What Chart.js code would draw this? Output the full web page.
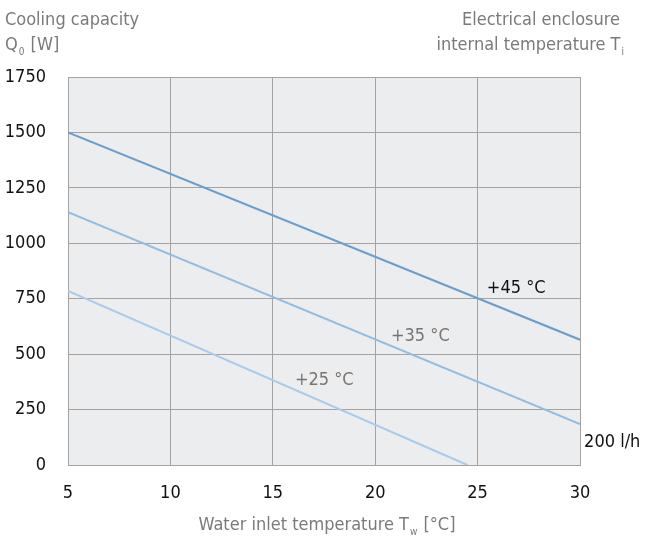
<!DOCTYPE html>
<html>
<head>
<meta charset="utf-8">
<script src="https://cdn.jsdelivr.net/npm/chart.js@4.4.1/dist/chart.umd.min.js"></script>
<style>
html,body{margin:0;padding:0;background:#fff;}
#wrap{width:662px;height:543px;position:relative;}
</style>
</head>
<body>
<div id="wrap"><canvas id="c"></canvas></div>
<script>
// Data
const xTicks = [5, 10, 15, 20, 25, 30];
const yTicks = [0, 250, 500, 750, 1000, 1250, 1500, 1750];
const seriesNames = ['+45 °C', '+35 °C', '+25 °C'];
const t45x = [5, 30];
const t45y = [1500, 565];
const t35x = [5, 30];
const t35y = [1140, 185];
const t25x = [5, 24.5];
const t25y = [785, 0];
const flowLabel = '200 l/h';

const FONT = '"Liberation Sans Narrow", "DejaVu Sans Condensed", Roboto, sans-serif';
const toPts = (xs, ys) => xs.map((x, i) => ({x: x, y: ys[i]}));

const textPlugin = {
  id: 'texts',
  beforeDraw(chart) {
    const {ctx, chartArea: a} = chart;
    ctx.save();
    ctx.fillStyle = '#ecedef';
    ctx.fillRect(a.left, a.top, a.right - a.left, a.bottom - a.top);
    ctx.restore();
  },
  afterDraw(chart) {
    const {ctx, scales: {x, y}} = chart;
    ctx.save();
    ctx.textBaseline = 'alphabetic';
    // Top-left axis title
    ctx.fillStyle = '#7a7a7a';
    ctx.font = '18px ' + FONT;
    ctx.textAlign = 'left';
    ctx.fillText('Cooling capacity', 5, 25);
    let px = 5;
    ctx.fillText('Q', px, 50); px += ctx.measureText('Q').width;
    ctx.font = '10px ' + FONT;
    ctx.fillText('0', px + 1, 55); px += ctx.measureText('0').width + 2;
    ctx.font = '18px ' + FONT;
    ctx.fillText(' [W]', px, 50);
    // Top-right title
    ctx.textAlign = 'right';
    ctx.fillText('Electrical enclosure', 620, 25);
    ctx.font = '10px ' + FONT;
    const subW = ctx.measureText('i').width;
    ctx.fillText('i', 624, 55);
    ctx.font = '18px ' + FONT;
    ctx.fillText('internal temperature T', 624 - subW - 1, 50);
    // X axis title
    ctx.textAlign = 'left';
    const main = 'Water inlet temperature T';
    const tail = ' [°C]';
    const w1 = ctx.measureText(main).width;
    ctx.font = '10px ' + FONT;
    const w2 = ctx.measureText('w').width;
    ctx.font = '18px ' + FONT;
    const w3 = ctx.measureText(tail).width;
    let sx = 327 - (w1 + w2 + w3 + 2) / 2;
    ctx.fillText(main, sx, 530);
    ctx.font = '10px ' + FONT;
    ctx.fillText('w', sx + w1 + 1, 535);
    ctx.font = '18px ' + FONT;
    ctx.fillText(tail, sx + w1 + w2 + 2, 530);
    // Series labels
    ctx.font = '18px ' + FONT;
    ctx.fillStyle = '#111';
    ctx.fillText(seriesNames[0], x.getPixelForValue(25.45), y.getPixelForValue(776));
    ctx.fillStyle = '#7a7470';
    ctx.fillText(seriesNames[1], x.getPixelForValue(20.77), y.getPixelForValue(560));
    ctx.fillText(seriesNames[2], x.getPixelForValue(16.08), y.getPixelForValue(361));
    ctx.fillStyle = '#111';
    ctx.fillText(flowLabel, x.getPixelForValue(30.2), y.getPixelForValue(81));
    ctx.restore();
  }
};

new Chart(document.getElementById('c'), {
  type: 'line',
  data: {
    datasets: [
      {label: seriesNames[0], data: toPts(t45x, t45y), borderColor: '#6a9fcc', borderWidth: 2.2},
      {label: seriesNames[1], data: toPts(t35x, t35y), borderColor: '#92bce0', borderWidth: 2},
      {label: seriesNames[2], data: toPts(t25x, t25y), borderColor: '#a9cbea', borderWidth: 2}
    ]
  },
  options: {
    responsive: true,
    maintainAspectRatio: false,
    animation: false,
    elements: {point: {radius: 0}, line: {tension: 0}},
    layout: {padding: {left: 0, right: 82, top: 77, bottom: 0}},
    plugins: {legend: {display: false}, tooltip: {enabled: false}},
    scales: {
      x: {
        type: 'linear', min: 5, max: 30,
        afterBuildTicks: s => { s.ticks = xTicks.map(v => ({value: v})); },
        afterFit: s => { s.height = 78; },
        grid: {color: '#a8a29f', lineWidth: 1, drawTicks: false},
        border: {color: '#a8a29f', width: 1},
        ticks: {padding: 18, color: '#111', font: {family: FONT, size: 18}, callback: v => String(v)}
      },
      y: {
        type: 'linear', min: 0, max: 1750,
        afterBuildTicks: s => { s.ticks = yTicks.map(v => ({value: v})); },
        afterFit: s => { s.width = 68; },
        grid: {color: '#a8a29f', lineWidth: 1, drawTicks: false},
        border: {color: '#a8a29f', width: 1},
        ticks: {padding: 22, color: '#111', font: {family: FONT, size: 18}, callback: v => String(v)}
      }
    }
  },
  plugins: [textPlugin]
});
</script>
</body>
</html>
